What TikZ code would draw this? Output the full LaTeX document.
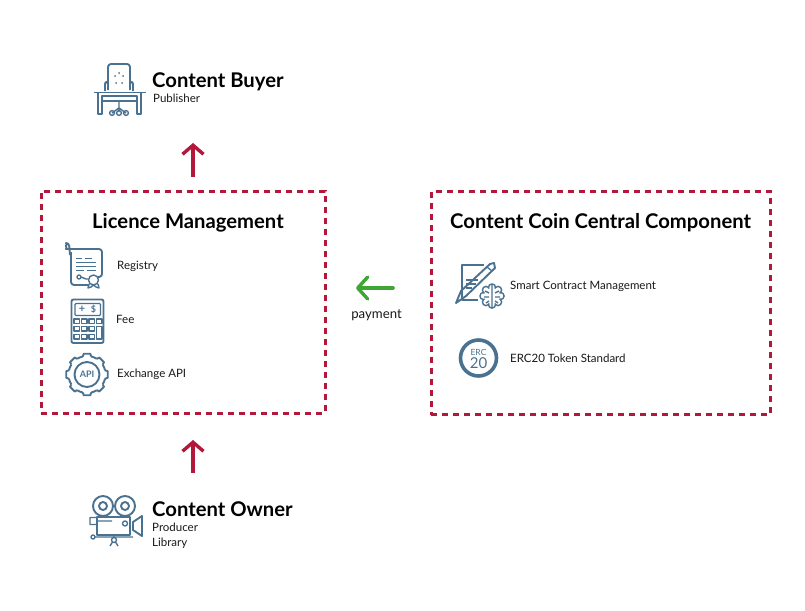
\documentclass[tikz,border=0pt]{standalone}
\usepackage{fontspec}
\setmainfont{Lato}
\usetikzlibrary{arrows.meta}

\definecolor{boxred}{HTML}{B2183A}
\definecolor{arrowgreen}{HTML}{3FA535}
\definecolor{iconblue}{HTML}{4A7290}

\tikzset{
  boxdash/.style={draw=boxred, line width=3pt, dash pattern=on 6pt off 5pt, outer sep=0pt, inner sep=0pt, anchor=north west},
  bigtitle/.style={anchor=base west, inner sep=0pt, font=\fontsize{20.25}{24}\selectfont\bfseries, text=black},
  smalllabel/.style={anchor=base west, inner sep=0pt, font=\fontsize{11.5}{14}\selectfont, text=black!90},
  redarrow/.style={draw=boxred, line width=3.6pt, -{Straight Barb[length=9pt,width=21pt,line width=3.4pt]}},
  greenarrow/.style={draw=arrowgreen, line width=3.6pt, line cap=round, -{Straight Barb[length=10pt,width=22pt,line width=3.4pt,round]}},
  icon/.style={draw=iconblue, line width=1.9pt, line join=round, fill=none},
  thinicon/.style={draw=iconblue, line width=1.4pt, line join=round, fill=none},
}

\begin{document}
\begin{tikzpicture}[x=1pt,y=-1pt]
  \useasboundingbox (0,0) rectangle (805,610);
  \fill[white] (0,0) rectangle (805,610);

  % dashed boxes
  \node[boxdash, minimum width=284pt, minimum height=222pt] (licence) at (41,191) {};
  \node[boxdash, minimum width=339pt, minimum height=223.5pt] (central) at (431,191) {};

  % titles
  \node[bigtitle] (buyer) at (152,87) {Content Buyer};
  \node[smalllabel] (publisher) at (153,102) {Publisher};
  \node[bigtitle] (owner) at (152,516) {Content Owner};
  \node[smalllabel] (producer) at (152,531) {Producer};
  \node[smalllabel] (library) at (152,546) {Library};
  \node[bigtitle] (licencetitle) at (92,228) {Licence Management};
  \node[bigtitle] (centraltitle) at (450,228) {Content Coin Central Component};

  % box entries
  \node[smalllabel] (registry) at (117,269) {Registry};
  \node[smalllabel] (fee) at (116,323) {Fee};
  \node[smalllabel] (exchange) at (117,377) {Exchange API};
  \node[smalllabel] (smart) at (510,289) {Smart Contract Management};
  \node[smalllabel] (erc) at (510,362) {ERC20 Token Standard};
  \node[anchor=base, inner sep=0pt, font=\fontsize{13.2}{16}\selectfont, text=black!90] (payment) at (376.5,318) {payment};

  % arrows
  \coordinate (buyertail) at (193,177);
  \coordinate (buyerhead) at (193,143);
  \coordinate (ownertail) at (193,473);
  \coordinate (ownerhead) at (193,440);
  \coordinate (paytail) at (393,288);
  \coordinate (payhead) at (356,288);
  \draw[redarrow] (buyertail) -- (buyerhead);
  \draw[redarrow] (ownertail) -- (ownerhead);
  \draw[greenarrow] (paytail) -- (payhead);

  % desk and chair
  \draw[icon, rounded corners=3pt] (108,84) -- (108,64) -- (130,64) -- (130,84);
  \draw[icon, rounded corners=2pt] (105,91) -- (105,82) -- (108,82) -- (108,90) (133,91) -- (133,82) -- (130,82) -- (130,90);
  \fill[iconblue] (119,73) circle (1) (115,76) circle (1) (123,76) circle (1) (116,83) circle (1) (122,83) circle (1);
  \draw[icon] (93.5,92.5) -- (146,92.5);
  \draw[icon] (98,93) -- (98,114) -- (102,114) -- (102,96) -- (137,96) -- (137,114) -- (141,114) -- (141,93);
  \draw[icon] (102,101) -- (137,101);
  \draw[thinicon] (119,101) -- (119,108) (119,108) -- (112,113) (119,108) -- (126,113) (119,108) -- (119,112);
  \draw[thinicon] (112,113) circle (2.4) (126,113) circle (2.4) (119,113) circle (2.4);

  % certificate
  \draw[icon, rounded corners=3pt] (71,252) -- (71,285) -- (89,285) (98,277) -- (102,277) -- (102,249) -- (69,249) arc (90:270:3) -- (70,255);
  \draw[thinicon] (76,258.5) -- (82,258.5) (85,258.5) -- (92,258.5)
    (76,262.5) -- (96,262.5) (76,266.5) -- (96,266.5) (76,270.5) -- (84,270.5) (87,270.5) -- (96,270.5);
  \draw[thinicon] (79,277) circle (2) (81,277) -- (86,279) -- (88,279);
  \draw[thinicon] (93.5,280) circle (5) (89,284) -- (88,288) -- (91,287) -- (93.5,285) -- (96,287) -- (99,288) -- (98,284);

  % calculator
  \draw[icon, rounded corners=2pt] (71.5,299.5) rectangle (103.5,343);
  \draw[thinicon, rounded corners=1pt] (75,303.5) rectangle (100.5,315.5);
  \node[inner sep=0pt, font=\fontsize{11}{11}\selectfont\bfseries, text=iconblue] (calcplus) at (82,309.5) {+};
  \node[inner sep=0pt, font=\fontsize{9}{9}\selectfont\bfseries, text=iconblue] (calcdollar) at (93.5,309.5) {\$};
  \foreach \cx in {74,81.5,89,96.5}
    \draw[thinicon] (\cx,319) rectangle ++(5.5,4.5);
  \foreach \cx in {74,81.5,89} {
    \draw[thinicon] (\cx,326.5) rectangle ++(5.5,4.5);
    \draw[thinicon] (\cx,334.5) rectangle ++(5.5,4.5);
  }
  \draw[thinicon] (96.5,326.5) rectangle (102,339);

  % gear
  \foreach \ga in {0,45,...,315} {
    \draw[icon] ([shift={(87,374.5)}]\ga+13:18.5) -- ([shift={(87,374.5)}]\ga+9:21) -- ([shift={(87,374.5)}]\ga-9:21) -- ([shift={(87,374.5)}]\ga-13:18.5);
    \draw[icon] ([shift={(87,374.5)}]\ga+13:18.5) arc[start angle=\ga+13, end angle=\ga+32, radius=18.5];
  }
  \draw[icon] (87,374.5) circle (12.5);
  \node[inner sep=0pt, font=\fontsize{9}{10}\selectfont\bfseries, text=iconblue] (apilabel) at (87,374.5) {API};

  % document with pen and brain
  \draw[icon] (462,290) -- (462,265) -- (484,265);
  \draw[icon] (462,290) -- (462,300) -- (478,300);
  \draw[thinicon] (466,280) -- (478,280) (466,284) -- (476,284) (466,288) -- (472,288);
  \draw[icon] (456,303) -- (461,291) -- (490,264) -- (494,263) -- (495,268) -- (466,296) -- cycle;
  \draw[thinicon] (487,267) -- (492,271);
  \foreach \ba in {0,45,...,315}
    \draw[thinicon, fill=white] ([shift={(492,296)}]\ba:8.5) circle (3.6);
  \fill[white] (492,296) circle (8);
  \draw[thinicon] (492,284) -- (492,308) (485,291) -- (489,293) (484,297) -- (489,297) (486,303) -- (489,301)
    (499,291) -- (495,293) (500,297) -- (495,297) (498,303) -- (495,301);

  % token
  \draw[draw=iconblue, line width=3.6pt] (478.5,358) circle (18);
  \node[inner sep=0pt, font=\fontsize{8.5}{9}\selectfont, text=iconblue] (erctop) at (478.5,352) {ERC};
  \node[inner sep=0pt, font=\fontsize{15}{16}\selectfont, text=iconblue] (ercnum) at (478.5,363) {20};

  % film camera
  \draw[icon] (103,506) circle (10) (103,506) circle (4) (125,506) circle (10) (125,506) circle (4);
  \draw[icon] (97,517) -- (130,517) -- (130,535) -- (97,535) -- cycle;
  \draw[thinicon] (90,517.5) rectangle (97,524.5) (97,521) -- (112,521) (125,523.5) circle (2.5);
  \draw[icon] (133,522) -- (142,516) -- (142,536) -- (133,530) -- cycle;
  \draw[thinicon] (93,537) circle (2) (95,537) -- (133,537);
  \draw[thinicon] (114,540) circle (2.5) (114,535) -- (114,537.5) (112.5,542) -- (110,546) (115.5,542) -- (118,546);
\end{tikzpicture}
\end{document}
